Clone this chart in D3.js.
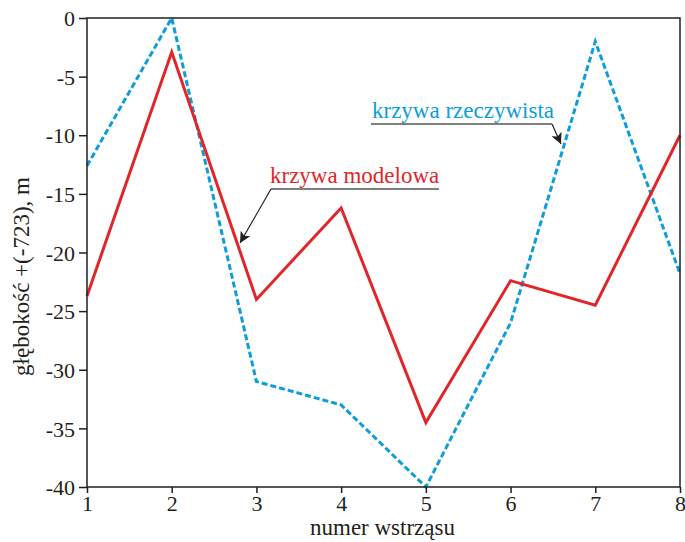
<!DOCTYPE html>
<html>
<head>
<meta charset="utf-8">
<script src="https://cdn.jsdelivr.net/npm/d3@7"></script>
<style>
  html, body { margin: 0; padding: 0; background: #fff; }
  svg { display: block; }
  text { font-family: "Liberation Serif", "Times New Roman", serif; fill: #231f20; }
</style>
</head>
<body>
<script>
// Shock numbers and depths (m, relative to -723)
const shocks = [1, 2, 3, 4, 5, 6, 7, 8];
const modelDepth = [-23.7, -2.9, -24.0, -16.2, -34.5, -22.4, -24.5, -10.0];
const actualDepth = [-12.6, 0.0, -31.0, -33.0, -40.0, -26.0, -2.0, -21.8];
const yTicks = [0, -5, -10, -15, -20, -25, -30, -35, -40];
const xTicks = [1, 2, 3, 4, 5, 6, 7, 8];

const W = 685, H = 542;
const margin = { left: 87, right: 5, top: 18, bottom: 55 };
const iw = W - margin.left - margin.right;
const ih = H - margin.top - margin.bottom;

const svg = d3.select("body").append("svg").attr("width", W).attr("height", H);
const g = svg.append("g").attr("transform", `translate(${margin.left},${margin.top})`);

const x = d3.scaleLinear().domain([1, 8]).range([0, iw]);
const y = d3.scaleLinear().domain([-40, 0]).range([ih, 0]);

const ink = "#231f20";
const red = "#e1262a";
const blue = "#0d9ddb";

// Data lines
const line = d3.line().x((d, i) => x(shocks[i])).y(d => y(d));
g.append("path").datum(actualDepth)
  .attr("d", line).attr("fill", "none")
  .attr("stroke", blue).attr("stroke-width", 3)
  .attr("stroke-dasharray", "6,3");
g.append("path").datum(modelDepth)
  .attr("d", line).attr("fill", "none")
  .attr("stroke", red).attr("stroke-width", 3)
  .attr("stroke-linejoin", "miter");

// Frame
g.append("rect").attr("x", 0).attr("y", 0).attr("width", iw).attr("height", ih)
  .attr("fill", "none").attr("stroke", ink).attr("stroke-width", 1.5);

// Axes
const yAxis = g.append("g").call(d3.axisLeft(y).tickValues(yTicks).tickSize(8).tickPadding(4)
  .tickFormat(d => d === 0 ? "0" : "-" + Math.abs(d)));
const xAxis = g.append("g").attr("transform", `translate(0,${ih})`)
  .call(d3.axisBottom(x).tickValues(xTicks).tickSize(6).tickPadding(2).tickFormat(d3.format("d")));
[yAxis, xAxis].forEach(a => {
  a.select(".domain").remove();
  a.selectAll(".tick line").attr("stroke", ink).attr("stroke-width", 1.5);
  a.selectAll(".tick text").attr("font-size", 22).style("font-family", "Liberation Serif, serif").attr("fill", ink);
});
yAxis.selectAll(".tick text").attr("dy", "0.35em");

// Axis titles
svg.append("text").attr("x", margin.left + iw / 2 - 1).attr("y", 535)
  .attr("text-anchor", "middle").attr("font-size", 23).text("numer wstrząsu");
svg.append("text").attr("transform", "translate(29,276.5) rotate(-90)")
  .attr("text-anchor", "middle").attr("font-size", 23).text("głębokość +(-723), m");

// Annotations with leader arrows
const defs = svg.append("defs");
defs.append("marker").attr("id", "arrow").attr("viewBox", "0 0 10 10")
  .attr("refX", 10).attr("refY", 5).attr("markerWidth", 13).attr("markerHeight", 11)
  .attr("markerUnits", "userSpaceOnUse").attr("orient", "auto")
  .append("path").attr("d", "M0,0 L10,5 L0,10 L2.5,5 Z").attr("fill", ink);

function annotate(label, color, tx, ty, x0, x1, uy, ax, ay) {
  svg.append("text").attr("x", tx).attr("y", ty).attr("font-size", 23)
    .attr("fill", color).style("fill", color).text(label);
  svg.append("path")
    .attr("d", `M${x0},${uy} L${x1},${uy}`)
    .attr("fill", "none").attr("stroke", "#555").attr("stroke-width", 1.3);
  const sx = ax < x0 ? x0 : x1;
  svg.append("path")
    .attr("d", `M${sx},${uy} L${ax},${ay}`)
    .attr("fill", "none").attr("stroke", ink).attr("stroke-width", 1.2)
    .attr("marker-end", "url(#arrow)");
}
annotate("krzywa modelowa", red, 270, 183, 271, 439, 189, 240, 243);
annotate("krzywa rzeczywista", blue, 372, 118, 371, 552, 124, 561, 144);
</script>
</body>
</html>
